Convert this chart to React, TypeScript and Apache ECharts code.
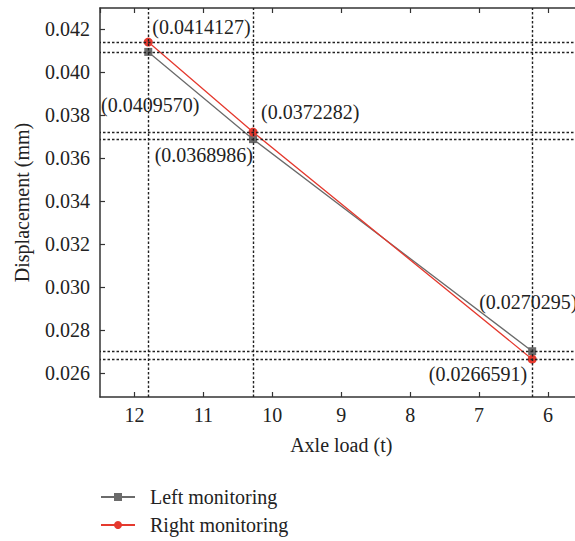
import React, { useEffect, useRef } from "react";
import * as echarts from "echarts";

// Axle load (t) at each monitoring position
const axleLoads = [11.8, 10.28, 6.23];
// Peak displacement (mm) measured on each side
const leftDisp = [0.040957, 0.0368986, 0.0270295];
const rightDisp = [0.0414127, 0.0372282, 0.0266591];
const seriesNames = ["Left monitoring", "Right monitoring"];

const FONT = "Liberation Serif";
const FS = 20;
const GRAY = "#6b6b6b";
const RED = "#e5392e";

// Value-label placement for each point (alignment + pixel offset from the marker)
const leftLabelPos = [
  { align: "center", offset: [2, 53] },
  { align: "right", offset: [0, 16] },
  { align: "left", offset: [-53, -49] },
];
const rightLabelPos = [
  { align: "left", offset: [4, -15] },
  { align: "left", offset: [8, -20] },
  { align: "right", offset: [-5, 15] },
];

const fmt = (v: number) => `(${v.toFixed(7)})`;

const guide = {
  silent: true,
  precision: 8,
  symbol: ["none", "none"],
  label: { show: false },
  lineStyle: { type: [2.5, 2], color: "#222", width: 1.4 },
  emphasis: { disabled: true },
};

export default function App() {
  const ref = useRef<HTMLDivElement>(null);

  useEffect(() => {
    if (!ref.current) return;
    const chart = echarts.init(ref.current, undefined, { renderer: "svg" });

    const mkData = (vals: number[], pos: any[]) =>
      vals.map((v, i) => ({
        value: [axleLoads[i], v],
        label: {
          show: true,
          position: "inside",
          align: pos[i].align,
          verticalAlign: "middle",
          offset: pos[i].offset,
          formatter: fmt(v),
          color: "#222",
          fontFamily: FONT,
          fontSize: FS,
        },
      }));

    const xBase = {
      type: "value",
      min: 5.5,
      max: 12.5,
      inverse: true,
      splitNumber: 7,
      splitLine: { show: false },
      axisLine: { lineStyle: { color: "#333", width: 1.5 } },
      axisTick: { inside: true, length: 5, lineStyle: { color: "#333", width: 1.2 } },
    };
    const yBase = {
      type: "value",
      min: 0.0249,
      max: 0.043,
      splitNumber: 9,
      scale: true,
      splitLine: { show: false },
      axisLine: { show: true, lineStyle: { color: "#333", width: 1.5 } },
      axisTick: { show: true, inside: true, length: 5, lineStyle: { color: "#333", width: 1.2 } },
    };

    chart.setOption({
      animation: false,
      backgroundColor: "#fff",
      textStyle: { fontFamily: FONT },
      grid: { left: 100, right: 7.5, top: 8, bottom: 144 },
      xAxis: [
        {
          ...xBase,
          position: "bottom",
          name: "Axle load (t)",
          nameLocation: "middle",
          nameGap: 38,
          nameTextStyle: { fontFamily: FONT, fontSize: FS, color: "#222" },
          axisLabel: {
            color: "#222",
            fontFamily: FONT,
            fontSize: FS,
            margin: 8,
            showMinLabel: false,
            showMaxLabel: false,
          },
        },
        { ...xBase, position: "top", axisLabel: { show: false } },
      ],
      yAxis: [
        {
          ...yBase,
          position: "left",
          name: "Displacement (mm)",
          nameLocation: "middle",
          nameGap: 68,
          nameTextStyle: { fontFamily: FONT, fontSize: FS, color: "#222" },
          axisLabel: {
            color: "#222",
            fontFamily: FONT,
            fontSize: FS,
            margin: 10,
            showMinLabel: false,
            showMaxLabel: false,
            formatter: (v: number) => v.toFixed(3),
          },
        },
        { ...yBase, position: "right", axisLabel: { show: false } },
      ],
      legend: {
        orient: "vertical",
        left: 100,
        top: 487,
        padding: 0,
        itemWidth: 34,
        itemHeight: 10,
        itemGap: 8,
        textStyle: {
          fontFamily: FONT,
          fontSize: FS,
          color: "#222",
          lineHeight: 20,
          padding: [0, 0, 0, 10],
        },
        data: seriesNames,
      },
      series: [
        {
          name: seriesNames[0],
          type: "line",
          xAxisIndex: 0,
          yAxisIndex: 0,
          symbol: "rect",
          symbolSize: 8,
          itemStyle: { color: GRAY },
          lineStyle: { color: GRAY, width: 1.3 },
          data: mkData(leftDisp, leftLabelPos),
          markLine: {
            ...guide,
            data: [
              ...leftDisp.map((v) => ({ yAxis: v })),
              ...axleLoads.map((x) => ({ xAxis: x })),
            ],
          },
        },
        {
          name: seriesNames[1],
          type: "line",
          xAxisIndex: 0,
          yAxisIndex: 0,
          symbol: "circle",
          symbolSize: 9,
          itemStyle: { color: RED },
          lineStyle: { color: RED, width: 1.3 },
          data: mkData(rightDisp, rightLabelPos),
          markLine: {
            ...guide,
            data: rightDisp.map((v) => ({ yAxis: v })),
          },
        },
      ],
    });

    return () => chart.dispose();
  }, []);

  return (
    <div
      style={{
        position: "absolute",
        left: 0,
        top: 0,
        width: 575,
        height: 541,
        overflow: "hidden",
        background: "#fff",
      }}
    >
      <div ref={ref} style={{ width: 590, height: 541 }} />
    </div>
  );
}
